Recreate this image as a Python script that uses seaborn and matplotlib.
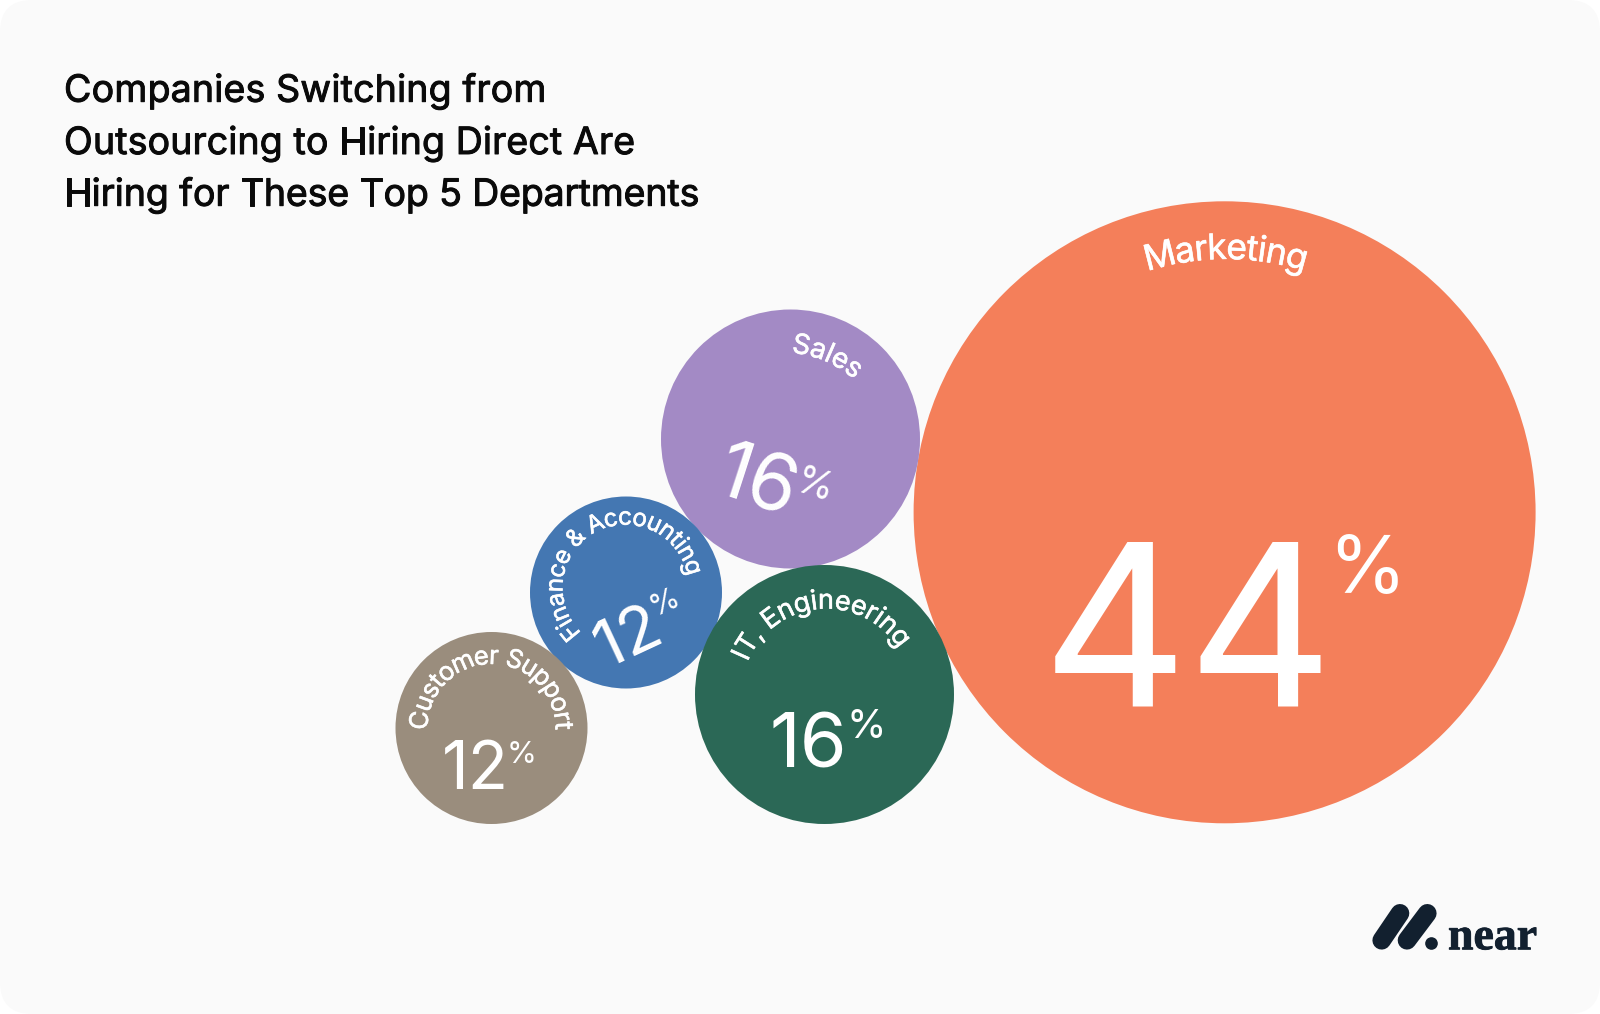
import math
import pandas as pd
import matplotlib
matplotlib.use("Agg")
import matplotlib.pyplot as plt
import matplotlib.patheffects as pe
import seaborn as sns
from matplotlib.font_manager import FontProperties
from matplotlib.patches import FancyBboxPatch

# datos del grafico
title_lines = ["Companies Switching from", "Outsourcing to Hiring Direct Are", "Hiring for These Top 5 Departments"]
departments = ["Marketing", "Sales", "Finance & Accounting", "IT, Engineering", "Customer Support"]
shares = [44, 16, 12, 16, 12]

# layout en pixeles de la imagen
center_x = [1224.6, 790.5, 626, 824.5, 491.5]
center_y = [512.3, 439, 592.5, 694.5, 728]
radius = [311, 129.5, 96, 129.5, 96]
colors = ["#F47F5A", "#A38AC5", "#4477B2", "#2B6856", "#9A8D7D"]

# (x, y, inclinacion, radio de curvatura, tamano, espaciado)
label_arcs = [
    (1226, 259, 0, 257, 25.5, 0.94),
    (825, 361, -23, 110, 20, 0.98),
    (596, 532, 28, 63, 17.5, 0.94),
    (819, 609, 5, 85, 19.5, 0.97),
    (491.5, 664, 0, 64, 18.5, 0.92),
]
# (x, y, rotacion, tamano) del numero y del signo %
number_pos = [
    (1188, 706, 0, 163),
    (749.5, 504, -18, 56.5),
    (635.7, 654.3, 25, 47),
    (808, 767, 0, 54.5),
    (475, 789, 0, 47.5),
]
percent_pos = [
    (1367, 593, 0, 57),
    (811, 497.3, -18, 28),
    (667.7, 609.3, 25, 22),
    (866, 738, 0, 29),
    (521.5, 762.7, 0, 22),
]
title_fit = [1.01, 1.007, 0.995]

INK = "#12202F"
TITLE_INK = "#0A0A0A"
FONT = "Inter"

fig, ax = plt.subplots(figsize=(16, 10.14), dpi=100)
fig.patch.set_facecolor("white")
ax.set_position([0, 0, 1, 1])
ax.add_patch(FancyBboxPatch((0, 0), 1600, 1014, boxstyle="round,pad=0,rounding_size=32",
                            facecolor="#FAFAFA", edgecolor="none", zorder=0))

df = pd.DataFrame({"department": departments, "share": shares, "x": center_x, "y": center_y})
# s esta en puntos^2: diametro en px * 0.72
size_map = {d: (2 * r * 0.72) ** 2 for d, r in zip(departments, radius)}
sns.scatterplot(data=df, x="x", y="y", hue="department", size="department", palette=dict(zip(departments, colors)),
                sizes=size_map, linewidth=0, alpha=1, legend=False, ax=ax, clip_on=False)

ax.set_xlim(0, 1600)
ax.set_ylim(1014, 0)
ax.axis("off")

renderer = fig.canvas.get_renderer()


def text_width(s, prop):
    return renderer.get_text_width_height_descent(s, prop, False)[0]


def thick(color, width):
    return [pe.withStroke(linewidth=width, foreground=color)]


# Funcion para escribir un texto letra por letra sobre un arco
def arc_text(text, mx, my, tilt, r, size, spacing):
    prop = FontProperties(family=FONT, size=size)
    bar = text_width("|", prop)
    total = (text_width(text + "|", prop) - bar) * spacing
    t = math.radians(tilt)
    cx = mx + r * math.sin(t)
    cy = my + r * math.cos(t)
    for i, ch in enumerate(text):
        start = text_width(text[:i] + "|", prop) - bar
        end = text_width(text[:i + 1] + "|", prop) - bar
        s = (start + end) / 2 * spacing - total / 2
        a = t - s / r
        ax.text(cx - r * math.sin(a), cy - r * math.cos(a), ch, fontproperties=prop, color="white",
                rotation=math.degrees(a), rotation_mode="anchor", ha="center", va="baseline", zorder=3,
                path_effects=thick("white", 0.4))


# Funcion para una linea recta con el espaciado ajustado
def tracked_text(text, x, y, size, spacing, color):
    prop = FontProperties(family=FONT, size=size)
    bar = text_width("|", prop)
    for i, ch in enumerate(text):
        start = text_width(text[:i] + "|", prop) - bar
        ax.text(x + start * spacing, y, ch, fontproperties=prop, color=color, ha="left", va="baseline",
                zorder=3, path_effects=thick(color, 0.7))


for arc, dept in zip(label_arcs, departments):
    arc_text(dept, *arc)

for share, (x, y, rot, size) in zip(shares, number_pos):
    ax.text(x, y, str(share), family=FONT, fontsize=size, color="white", rotation=rot,
            rotation_mode="anchor", ha="center", va="baseline", zorder=3)
for (x, y, rot, size) in percent_pos:
    ax.text(x, y, "%", family=FONT, fontsize=size, color="white", rotation=rot,
            rotation_mode="anchor", ha="center", va="baseline", zorder=3)

# titulo
for line, y, fit in zip(title_lines, [101.7, 154, 205.7], title_fit):
    tracked_text(line, 64, y, 27, fit, TITLE_INK)

# logo
ax.plot([1381.7, 1400], [940.3, 913.3], color=INK, lw=13.4, solid_capstyle="round", zorder=3)
ax.plot([1407, 1427.3], [940.3, 913.3], color=INK, lw=13.4, solid_capstyle="round", zorder=3)
ax.plot([1431], [943.3], marker="o", ms=9.1, color=INK, mew=0, zorder=3)
ax.text(1448, 949.3, "near", family="Liberation Serif", fontweight="bold", fontsize=33, color=INK, va="baseline",
        ha="left", zorder=3, path_effects=thick(INK, 0.6))

fig.savefig("out.png", dpi=100, facecolor=fig.get_facecolor())
